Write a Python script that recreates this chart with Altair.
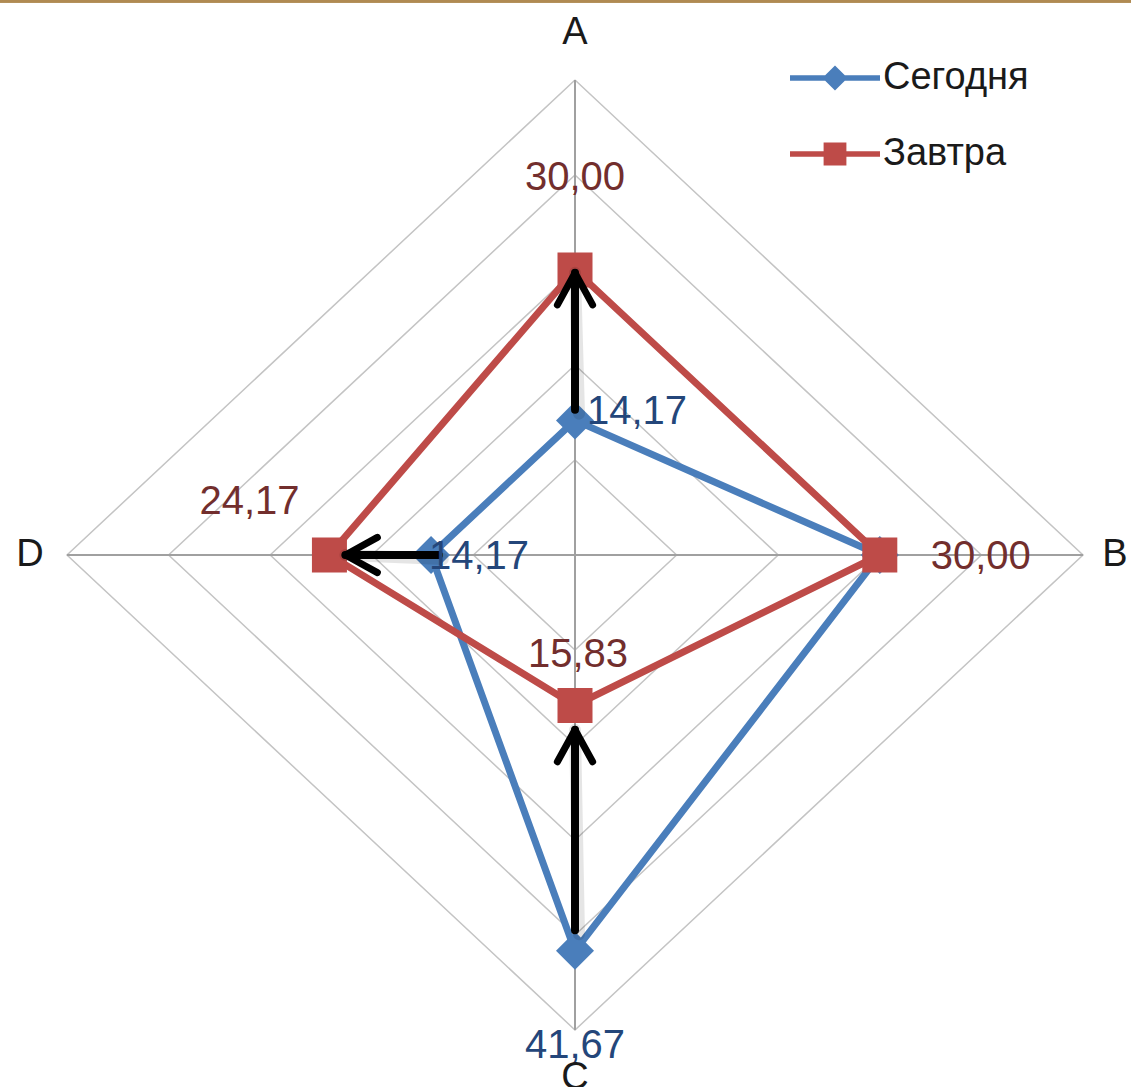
import altair as alt
import numpy as np
import pandas as pd

# ---- data -------------------------------------------------------------
axes = ["A", "B", "C", "D"]
axis_angles = [0, 90, 180, 270]          # clockwise from the top
series_names = ["Сегодня", "Завтра"]
today = [14.17, 30.00, 41.67, 14.17]
tomorrow = [30.00, 30.00, 15.83, 24.17]
ring_levels = [10, 20, 30, 40, 50]
r_max = 50

# arrows showing the shift from today's value to tomorrow's
arrow_axes = ["A", "D", "C"]
arrow_from = [15.3, 13.4, 39.5]
arrow_to = [29.7, 22.6, 18.4]

# which values carry a data label
label_series = ["Завтра", "Завтра", "Завтра", "Завтра", "Сегодня", "Сегодня", "Сегодня"]
label_axes = ["A", "B", "C", "D", "A", "D", "C"]

# ---- layout / style ---------------------------------------------------
W, H = 1016, 950
PX_X = W / (2 * r_max)
PX_Y = H / (2 * r_max)
FONT = "Liberation Sans"
BLUE, RED = "#4a7ebb", "#be4b48"
SERIES_COLORS = {"Сегодня": BLUE, "Завтра": RED}
BLUE_TXT, RED_TXT = "#24467a", "#722e2d"
label_dx = [0, 101, 3, -80, 62, 48, 0]      # pixel nudges of the value labels
label_dy = [-92, 2, -50, -53, -8, 2, 95]
axis_label_gap = [47, 32, 48, 37]          # pixels beyond the outer ring

ang = dict(zip(axes, np.deg2rad(axis_angles)))


def polar(axis, r):
    a = ang[axis]
    return float(r * np.sin(a)), float(r * np.cos(a))


def fmt(v):
    return f"{v:.2f}".replace(".", ",")


closed = axes + [axes[0]]

grid_rows = []
for lvl in ring_levels:
    for i, ax in enumerate(closed):
        x, y = polar(ax, lvl)
        grid_rows.append({"level": lvl, "idx": i, "x": x, "y": y})
grid_df = pd.DataFrame(grid_rows)

spoke_rows = []
for ax in axes:
    x2, y2 = polar(ax, r_max)
    spoke_rows.append({"axis": ax, "x": 0.0, "y": 0.0, "x2": x2, "y2": y2})
spoke_df = pd.DataFrame(spoke_rows)

values = {"Сегодня": today, "Завтра": tomorrow}
line_rows, point_rows = [], []
for s in series_names:
    vals = dict(zip(axes, values[s]))
    for i, ax in enumerate(closed):
        x, y = polar(ax, vals[ax])
        line_rows.append({"series": s, "idx": i, "x": x, "y": y})
    for ax in axes:
        x, y = polar(ax, vals[ax])
        point_rows.append({"series": s, "axis": ax, "value": vals[ax], "x": x, "y": y})
line_df = pd.DataFrame(line_rows)
point_df = pd.DataFrame(point_rows)

label_rows = []
for s, ax, dx, dy in zip(label_series, label_axes, label_dx, label_dy):
    v = dict(zip(axes, values[s]))[ax]
    x, y = polar(ax, v)
    label_rows.append({"series": s, "label": fmt(v),
                       "lx": x + dx / PX_X, "ly": y - dy / PX_Y})
label_df = pd.DataFrame(label_rows)

axis_rows = []
for ax, gap in zip(axes, axis_label_gap):
    a = ang[ax]
    lx = (r_max + gap / PX_X) * np.sin(a)
    ly = (r_max + gap / PX_Y) * np.cos(a)
    axis_rows.append({"axis": ax, "lx": float(lx), "ly": float(ly)})
axis_df = pd.DataFrame(axis_rows)

arrow_rows = []
for ax, r0, r1 in zip(arrow_axes, arrow_from, arrow_to):
    x0, y0 = polar(ax, r0)
    x1, y1 = polar(ax, r1)
    base = dict(zip(axes, axis_angles))[ax]
    rot = base if r1 > r0 else (base + 180) % 360
    arrow_rows.append({"axis": ax, "x": x0, "y": y0, "x2": x1, "y2": y1, "rot": rot})
arrow_df = pd.DataFrame(arrow_rows)

# ---- encodings --------------------------------------------------------
xs = alt.Scale(domain=[-r_max, r_max], nice=False, zero=False)
ys = alt.Scale(domain=[-r_max, r_max], nice=False, zero=False)
X = alt.X("x:Q", scale=xs, axis=None)
Y = alt.Y("y:Q", scale=ys, axis=None)
color_scale = alt.Scale(domain=series_names, range=[BLUE, RED])

legend_paths = [
    "M-1.5,-0.095H1.5V0.095H-1.5Z M-0.42,0L0,-0.42L0.42,0L0,0.42Z",
    "M-1.5,-0.095H1.5V0.095H-1.5Z M-0.38,-0.38H0.38V0.38H-0.38Z",
]
legend_def = alt.Legend(
    title=None, orient="none", legendX=738, legendY=-32,
    symbolSize=3600, symbolStrokeWidth=0, symbolOpacity=1,
    labelFont=FONT, labelFontSize=38,
    labelColor="#1a1a1a", labelOffset=18, rowPadding=27, padding=0, labelLimit=400,
)

# ---- layers -----------------------------------------------------------
rings = alt.Chart(grid_df).mark_line(color="#c4c4c4", strokeWidth=1.5).encode(
    x=X, y=Y, detail="level:N", order="idx:Q")

spokes = alt.Chart(spoke_df).mark_rule(color="#a0a0a0", strokeWidth=2).encode(
    x=X, y=Y, x2="x2:Q", y2="y2:Q")


def series_line(name):
    return alt.Chart(line_df).transform_filter(alt.datum.series == name).mark_line(
        strokeWidth=7, color=SERIES_COLORS[name]).encode(x=X, y=Y, order="idx:Q")


def series_points(name, shape, size):
    return alt.Chart(point_df).transform_filter(alt.datum.series == name).mark_point(
        filled=True, shape=shape, size=size, opacity=1,
        color=SERIES_COLORS[name]).encode(x=X, y=Y)


arrow_shadow = alt.Chart(arrow_df).mark_rule(
    color="#000000", strokeWidth=12, opacity=0.1, strokeCap="round",
    xOffset=4, yOffset=4).encode(x=X, y=Y, x2="x2:Q", y2="y2:Q")

arrow_shaft = alt.Chart(arrow_df).mark_rule(
    color="#000000", strokeWidth=8, strokeCap="round").encode(
    x=X, y=Y, x2="x2:Q", y2="y2:Q")

arrow_head = alt.Chart(arrow_df).mark_point(
    shape="M-0.55,1L0,0L0.55,1", filled=False, size=4096, strokeWidth=7,
    color="#000000", strokeCap="round", strokeJoin="round", opacity=1).encode(
    x=alt.X("x2:Q", scale=xs, axis=None),
    y=alt.Y("y2:Q", scale=ys, axis=None),
    angle=alt.Angle("rot:Q", scale=None))


def value_labels(name, col):
    return alt.Chart(label_df).transform_filter(alt.datum.series == name).mark_text(
        font=FONT, fontSize=40, color=col, align="center", baseline="middle").encode(
        x=alt.X("lx:Q", scale=xs, axis=None),
        y=alt.Y("ly:Q", scale=ys, axis=None),
        text="label:N")


axis_labels = alt.Chart(axis_df).mark_text(
    font=FONT, fontSize=38, color="#1a1a1a", align="center", baseline="middle").encode(
    x=alt.X("lx:Q", scale=xs, axis=None),
    y=alt.Y("ly:Q", scale=ys, axis=None),
    text="axis:N")

# invisible points that carry the series legend (line + marker symbols)
legend_layer = alt.Chart(point_df).mark_point(filled=True, opacity=0).encode(
    x=X, y=Y,
    color=alt.Color("series:N", scale=color_scale, legend=legend_def),
    shape=alt.Shape("series:N", scale=alt.Scale(domain=series_names, range=legend_paths),
                    legend=legend_def))

top_rule = alt.Chart(spoke_df).mark_rule(color="#b08a52", strokeWidth=3).encode(
    x=alt.value(-67), x2=alt.value(1131 - 67), y=alt.value(-79))

chart = alt.layer(
    rings, spokes,
    series_line("Сегодня"), series_line("Завтра"),
    series_points("Сегодня", "diamond", 1444), series_points("Завтра", "square", 1225),
    arrow_shadow, arrow_shaft, arrow_head,
    value_labels("Завтра", RED_TXT), value_labels("Сегодня", BLUE_TXT),
    axis_labels, legend_layer, top_rule,
).properties(
    width=W, height=H,
    padding={"left": 67, "top": 80, "right": 1131 - 67 - W, "bottom": 1087 - 80 - H},
    autosize=alt.AutoSizeParams(type="none"),
    background="white",
).configure_view(stroke=None)

chart.save("out.html", embed_options={"renderer": "svg", "actions": False})
